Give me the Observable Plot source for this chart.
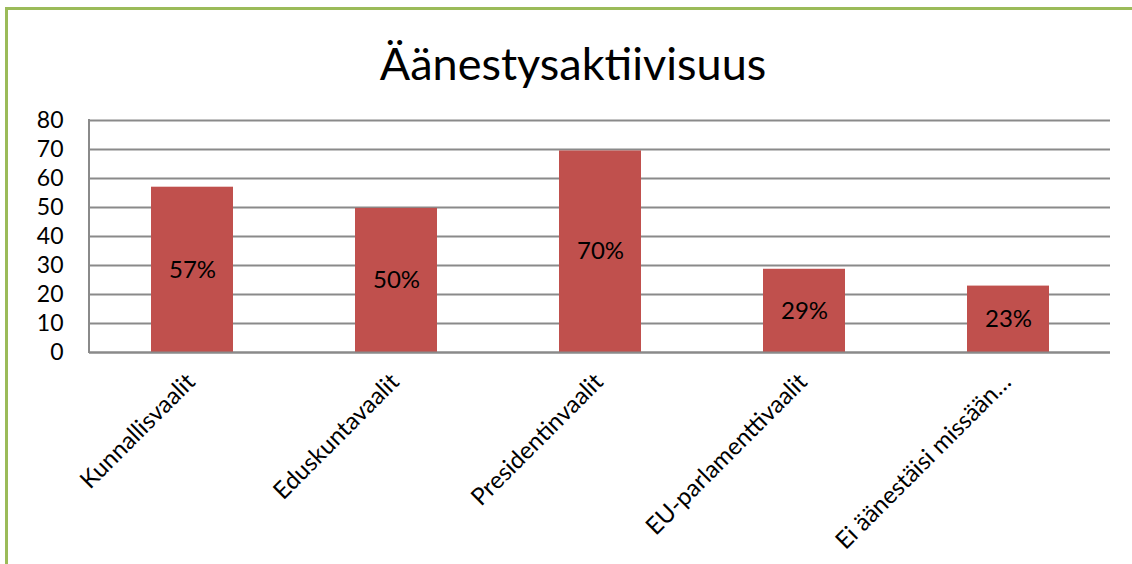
<!DOCTYPE html>
<html><head><meta charset="utf-8">
<script src="https://cdn.jsdelivr.net/npm/d3@7"></script>
<script src="https://cdn.jsdelivr.net/npm/@observablehq/plot@0.6"></script>
<style>
html,body{margin:0;padding:0;background:#fff;overflow:hidden}
#wrap{position:relative;width:1132px;height:564px;overflow:hidden}
#border{position:absolute;left:5px;top:7px;width:1200px;height:700px;border:3px solid #9bbb59;box-sizing:border-box}
#chart{position:absolute;left:0;top:0}
</style></head><body>
<div id="wrap"><div id="border"></div><div id="chart"></div></div>
<script>
const title = "Äänestysaktiivisuus";
const categories = ["Kunnallisvaalit", "Eduskuntavaalit", "Presidentinvaalit", "EU-parlamenttivaalit", "Ei äänestäisi missään…"];
const values = [57, 49.7, 69.5, 28.7, 22.9];
const valueLabels = ["57%", "50%", "70%", "29%", "23%"];
const yTicks = [0, 10, 20, 30, 40, 50, 60, 70, 80];

const data = categories.map((c, i) => ({category: c, value: values[i], label: valueLabels[i]}));
const font = "Lato, 'Liberation Sans', sans-serif";
const gridColor = "#8a8a8a";

const chart = Plot.plot({
  width: 1132, height: 564,
  marginTop: 120, marginBottom: 212, marginLeft: 89, marginRight: 22,
  style: {fontFamily: font, background: "transparent", color: "#000", overflow: "visible"},
  x: {domain: categories, paddingInner: 0.6, paddingOuter: 0.3, axis: null},
  y: {domain: [0, 80], axis: null},
  marks: [
    Plot.ruleY(yTicks, {stroke: gridColor, strokeWidth: 2}),
    Plot.barY(data, {x: "category", y: "value", fill: "#c0504d"}),
    Plot.ruleY([0], {stroke: gridColor, strokeWidth: 2}),
    (index, scales, values, dimensions) => {
      const g = d3.create("svg:g");
      g.append("line")
        .attr("x1", dimensions.marginLeft).attr("x2", dimensions.marginLeft)
        .attr("y1", scales.y(80) - 1).attr("y2", scales.y(0) + 1)
        .attr("stroke", gridColor).attr("stroke-width", 2);
      return g.node();
    },
    Plot.axisY(yTicks, {tickSize: 0, tickPadding: 26, fontSize: 23, fill: "#000", label: null}),
    Plot.text(data, {x: "category", y: d => d.value / 2, text: "label", fontSize: 24, fill: "#000"}),
    Plot.text(categories, {x: d => d, frameAnchor: "bottom", rotate: -45, textAnchor: "end", dx: 4, dy: 31, fontSize: 24, fill: "#000"}),
    Plot.text([title], {frameAnchor: "top", dx: -27, dy: -72, fontSize: 45, fill: "#000"})
  ]
});
document.getElementById("chart").appendChild(chart);
</script>
</body></html>
